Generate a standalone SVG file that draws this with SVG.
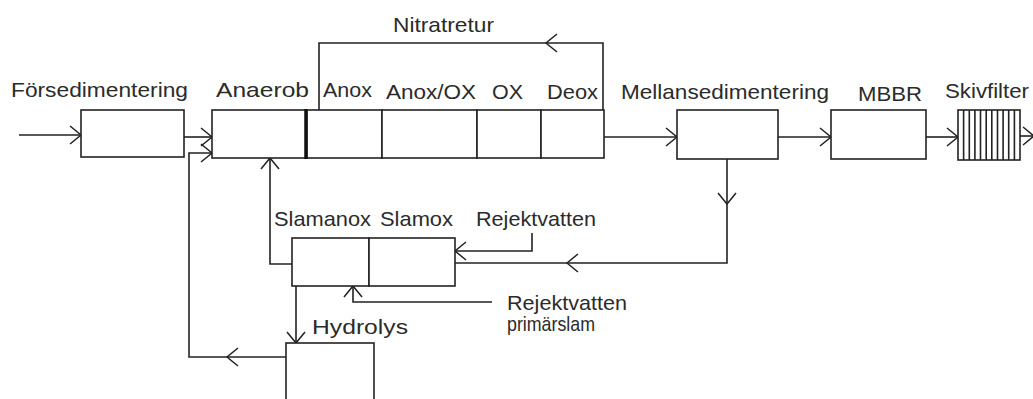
<svg xmlns="http://www.w3.org/2000/svg" width="1033" height="399" viewBox="0 0 1033 399">
<style>
.box{fill:#fff;stroke:#222;stroke-width:1.6}
.ln{fill:none;stroke:#222;stroke-width:1.6}
.arr{marker-end:url(#ah)}
text{font-family:"Liberation Sans",Arial,sans-serif;font-size:21px;fill:#2b2b2b}
</style>
<defs>
<marker id="ah" markerUnits="userSpaceOnUse" markerWidth="24" markerHeight="24" viewBox="0 0 24 24" refX="14" refY="12" orient="auto" overflow="visible">
<path d="M3,3 L14,12 L3,21" fill="none" stroke="#222" stroke-width="1.5"/>
</marker>
</defs>
<rect width="1033" height="399" fill="#fff"/>

<g id="connectors">
<path class="ln arr" d="M19,135 H81"/>
<path class="ln arr" d="M184,137 H212"/>
<path class="ln arr" d="M286,357 H227"/>
<path class="ln arr" d="M227,357 H189 V153 H212"/>
<path class="ln arr" d="M292,264 H270 V158"/>
<path class="ln arr" d="M603,110 V43 H546"/>
<path class="ln" d="M546,43 H319 V110"/>
<path class="ln arr" d="M604,137 H677"/>
<path class="ln arr" d="M778,137 H831"/>
<path class="ln arr" d="M926,137 H958"/>
<path class="ln arr" d="M1020,136 H1034"/>
<path class="ln arr" d="M727,159 V204"/>
<path class="ln arr" d="M727,204 V263 H567"/>
<path class="ln" d="M567,263 H455"/>
<path class="ln arr" d="M532,233 V251 H455"/>
<path class="ln arr" d="M492,302 H353 V286"/>
<path class="ln arr" d="M296,286 V343"/>
</g>

<g id="nitratretur"><text x="393" y="32" textLength="101" lengthAdjust="spacingAndGlyphs">Nitratretur</text></g>

<g id="forsedimentering">
<rect class="box" x="81" y="110" width="103" height="47"/>
<text x="11" y="97" textLength="177" lengthAdjust="spacingAndGlyphs">Försedimentering</text>
</g>

<g id="anaerob">
<rect class="box" x="212" y="110" width="94" height="48"/>
<line x1="306" y1="109" x2="306" y2="159" stroke="#111" stroke-width="3"/>
<text x="216" y="97" textLength="93" lengthAdjust="spacingAndGlyphs">Anaerob</text>
</g>

<g id="anox">
<rect class="box" x="307" y="110" width="75" height="48"/>
<line x1="306" y1="109" x2="306" y2="159" stroke="#111" stroke-width="3"/>
<text x="323" y="97" textLength="49" lengthAdjust="spacingAndGlyphs">Anox</text>
</g>

<g id="anoxox">
<rect class="box" x="382" y="110" width="95" height="48"/>
<text x="386" y="99" textLength="90" lengthAdjust="spacingAndGlyphs">Anox/OX</text>
</g>

<g id="ox">
<rect class="box" x="477" y="110" width="64" height="48"/>
<text x="492" y="99" textLength="31" lengthAdjust="spacingAndGlyphs">OX</text>
</g>

<g id="deox">
<rect class="box" x="541" y="110" width="63" height="48"/>
<text x="547" y="99" textLength="51" lengthAdjust="spacingAndGlyphs">Deox</text>
</g>

<g id="mellansedimentering">
<rect class="box" x="677" y="110" width="101" height="49"/>
<text x="621" y="99" textLength="208" lengthAdjust="spacingAndGlyphs">Mellansedimentering</text>
</g>

<g id="mbbr">
<rect class="box" x="831" y="110" width="95" height="49"/>
<text x="858" y="101" textLength="64" lengthAdjust="spacingAndGlyphs">MBBR</text>
</g>

<g id="skivfilter">
<rect class="box" x="958" y="110" width="62" height="50"/>
<path class="ln" d="M963.6,110V160M969.3,110V160M974.9,110V160M980.5,110V160M986.2,110V160M991.8,110V160M997.5,110V160M1003.1,110V160M1008.7,110V160M1014.4,110V160"/>
<text x="945" y="98" textLength="84" lengthAdjust="spacingAndGlyphs">Skivfilter</text>
</g>

<g id="slamanox">
<rect class="box" x="292" y="238" width="77" height="48"/>
<text x="274" y="226" textLength="97" lengthAdjust="spacingAndGlyphs">Slamanox</text>
</g>

<g id="slamox">
<rect class="box" x="369" y="238" width="86" height="48"/>
<text x="380" y="226" textLength="73" lengthAdjust="spacingAndGlyphs">Slamox</text>
</g>

<g id="rejektvatten1">
<text x="476" y="226" textLength="120" lengthAdjust="spacingAndGlyphs">Rejektvatten</text>
</g>

<g id="rejektvatten2">
<text x="507" y="310" textLength="120" lengthAdjust="spacingAndGlyphs">Rejektvatten</text>
<text x="507" y="331" textLength="88" lengthAdjust="spacingAndGlyphs">primärslam</text>
</g>

<g id="hydrolys">
<rect class="box" x="286" y="343" width="88" height="60"/>
<text x="312" y="334" textLength="96" lengthAdjust="spacingAndGlyphs">Hydrolys</text>
</g>
</svg>
